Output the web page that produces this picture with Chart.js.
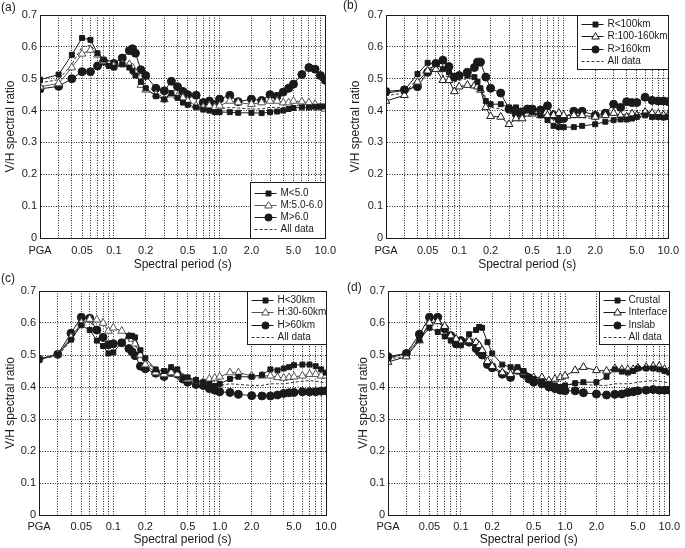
<!DOCTYPE html>
<html lang="en">
<head>
<meta charset="UTF-8">
<title>V/H spectral ratio</title>
<script src="https://cdn.jsdelivr.net/npm/chart.js"></script>
<style>
  body {
    margin: 0;
    width: 685px;
    height: 548px;
    background: #fff;
    position: relative;
    overflow: hidden;
    font-family: 'Liberation Sans', Arial, sans-serif;
  }
  canvas { position: absolute; }
  .tag { position: absolute; font-size: 12px; color: #222; line-height: 14px; }
</style>
</head>
<body>

<canvas id="chartA" width="342" height="274" style="left:0;top:0"></canvas>
<canvas id="chartB" width="343" height="274" style="left:342px;top:0"></canvas>
<canvas id="chartC" width="342" height="274" style="left:0;top:274px"></canvas>
<canvas id="chartD" width="343" height="274" style="left:342px;top:274px"></canvas>

<span class="tag" style="left:1px;top:0px">(a)</span>
<span class="tag" style="left:343px;top:-2px">(b)</span>
<span class="tag" style="left:1px;top:271px">(c)</span>
<span class="tag" style="left:347px;top:280px">(d)</span>

<script>
// spectral periods (s); PGA is drawn at the left edge (0.02 s)
const periods = [0.02, 0.03, 0.04, 0.05, 0.06, 0.07, 0.08, 0.09, 0.1, 0.12, 0.14, 0.15, 0.16, 0.18, 0.2,
                 0.25, 0.3, 0.35, 0.4, 0.45, 0.5, 0.6, 0.7, 0.8, 0.9, 1.0, 1.25, 1.5, 2.0, 2.5,
                 3.0, 3.5, 4.0, 4.5, 5.0, 6.0, 7.0, 8.0, 9.0, 10.0];

// x grid lines and labels
const gridPeriods = [0.02, 0.03, 0.04, 0.05, 0.06, 0.07, 0.08, 0.09, 0.1, 0.2, 0.3, 0.4, 0.5, 0.6, 0.7, 0.8, 0.9,
                     1, 2, 3, 4, 5, 6, 7, 8, 9, 10];
const labelPeriods = [0.02, 0.05, 0.1, 0.2, 0.5, 1, 2, 5, 10];
const labelTexts = ['PGA', '0.05', '0.1', '0.2', '0.5', '1.0', '2.0', '5.0', '10.0'];

// all data (dashed line)
const allData = [0.487, 0.497, 0.545, 0.600, 0.605, 0.580, 0.560, 0.545, 0.540, 0.548, 0.550, 0.545, 0.530, 0.500, 0.480,
                 0.455, 0.440, 0.455, 0.450, 0.435, 0.425, 0.415, 0.408, 0.410, 0.405, 0.405, 0.410, 0.408, 0.405, 0.405,
                 0.410, 0.410, 0.410, 0.412, 0.415, 0.418, 0.420, 0.418, 0.415, 0.413];
const allDataB = [0.447, 0.455, 0.500, 0.535, 0.535, 0.510, 0.505, 0.490, 0.495, 0.500, 0.500, 0.490, 0.480, 0.440, 0.410,
                  0.405, 0.390, 0.395, 0.390, 0.395, 0.393, 0.390, 0.385, 0.375, 0.372, 0.372, 0.378, 0.378, 0.375, 0.380,
                  0.390, 0.385, 0.390, 0.390, 0.392, 0.398, 0.395, 0.395, 0.393, 0.393];

// (a) magnitude
const magSmall = [0.497, 0.513, 0.575, 0.628, 0.622, 0.580, 0.560, 0.540, 0.535, 0.545, 0.535, 0.525, 0.510, 0.490, 0.470,
                  0.445, 0.435, 0.455, 0.440, 0.425, 0.418, 0.410, 0.403, 0.400, 0.395, 0.395, 0.395, 0.393, 0.393, 0.392,
                  0.395, 0.397, 0.400, 0.405, 0.408, 0.410, 0.410, 0.412, 0.413, 0.413];
const magMid = [0.475, 0.485, 0.535, 0.578, 0.590, 0.575, 0.555, 0.545, 0.540, 0.545, 0.545, 0.535, 0.520, 0.480, 0.465,
                0.450, 0.435, 0.450, 0.445, 0.440, 0.430, 0.415, 0.410, 0.415, 0.410, 0.415, 0.430, 0.425, 0.420, 0.425,
                0.430, 0.430, 0.425, 0.425, 0.430, 0.428, 0.425, 0.420, 0.410, 0.405];
const magLarge = [0.468, 0.476, 0.500, 0.522, 0.522, 0.540, 0.555, 0.545, 0.548, 0.565, 0.588, 0.594, 0.580, 0.528, 0.510,
                  0.470, 0.462, 0.492, 0.475, 0.460, 0.450, 0.448, 0.425, 0.430, 0.418, 0.436, 0.448, 0.428, 0.436, 0.432,
                  0.450, 0.445, 0.458, 0.470, 0.483, 0.513, 0.535, 0.530, 0.510, 0.495];

// (b) distance
const distNear = [0.455, 0.463, 0.515, 0.550, 0.545, 0.530, 0.520, 0.505, 0.510, 0.510, 0.505, 0.490, 0.470, 0.430, 0.420,
                  0.420, 0.410, 0.410, 0.400, 0.400, 0.395, 0.385, 0.370, 0.352, 0.348, 0.348, 0.348, 0.352, 0.357, 0.365,
                  0.370, 0.372, 0.372, 0.375, 0.380, 0.385, 0.380, 0.380, 0.378, 0.380];
const distMid = [0.430, 0.448, 0.490, 0.525, 0.530, 0.495, 0.495, 0.460, 0.475, 0.480, 0.478, 0.475, 0.465, 0.410, 0.382,
                 0.380, 0.357, 0.375, 0.375, 0.390, 0.390, 0.385, 0.385, 0.385, 0.392, 0.385, 0.385, 0.385, 0.380, 0.385,
                 0.392, 0.385, 0.380, 0.390, 0.385, 0.395, 0.392, 0.390, 0.385, 0.385];
const distFar = [0.460, 0.465, 0.475, 0.520, 0.548, 0.558, 0.538, 0.505, 0.510, 0.520, 0.535, 0.552, 0.552, 0.505, 0.470,
                 0.455, 0.405, 0.390, 0.390, 0.405, 0.405, 0.402, 0.415, 0.385, 0.372, 0.375, 0.398, 0.398, 0.385, 0.392,
                 0.420, 0.410, 0.428, 0.425, 0.425, 0.442, 0.432, 0.430, 0.430, 0.428];

// (c) depth
const depthShallow = [0.487, 0.502, 0.548, 0.593, 0.578, 0.545, 0.528, 0.505, 0.508, 0.540, 0.560, 0.560, 0.555, 0.515, 0.490,
                      0.455, 0.450, 0.462, 0.455, 0.430, 0.430, 0.422, 0.415, 0.410, 0.403, 0.410, 0.425, 0.432, 0.432, 0.438,
                      0.455, 0.452, 0.458, 0.462, 0.468, 0.470, 0.470, 0.465, 0.455, 0.445];
const depthMid = [0.487, 0.502, 0.555, 0.600, 0.612, 0.610, 0.600, 0.575, 0.585, 0.575, 0.558, 0.550, 0.535, 0.500, 0.470,
                  0.445, 0.440, 0.445, 0.440, 0.430, 0.425, 0.420, 0.415, 0.425, 0.428, 0.432, 0.445, 0.445, 0.435, 0.435,
                  0.435, 0.430, 0.428, 0.430, 0.432, 0.435, 0.440, 0.440, 0.435, 0.435];
const depthDeep = [0.487, 0.502, 0.568, 0.618, 0.615, 0.578, 0.555, 0.532, 0.535, 0.538, 0.520, 0.510, 0.498, 0.465, 0.457,
                   0.443, 0.433, 0.445, 0.440, 0.425, 0.415, 0.408, 0.405, 0.395, 0.390, 0.385, 0.383, 0.377, 0.373, 0.372,
                   0.372, 0.375, 0.380, 0.382, 0.383, 0.385, 0.385, 0.385, 0.387, 0.388];

// (d) event type
const crustal = [0.490, 0.505, 0.548, 0.585, 0.572, 0.558, 0.545, 0.532, 0.530, 0.565, 0.578, 0.588, 0.585, 0.540, 0.505,
                 0.470, 0.462, 0.462, 0.450, 0.432, 0.425, 0.418, 0.410, 0.405, 0.400, 0.405, 0.412, 0.415, 0.415, 0.432,
                 0.455, 0.448, 0.445, 0.450, 0.458, 0.458, 0.458, 0.455, 0.450, 0.445];
const interfaceEv = [0.478, 0.495, 0.545, 0.600, 0.605, 0.590, 0.560, 0.550, 0.540, 0.545, 0.540, 0.530, 0.515, 0.480, 0.465,
                     0.445, 0.440, 0.450, 0.445, 0.430, 0.430, 0.430, 0.420, 0.425, 0.430, 0.435, 0.452, 0.462, 0.452, 0.450,
                     0.458, 0.455, 0.455, 0.455, 0.460, 0.462, 0.465, 0.465, 0.455, 0.450];
const inslab = [0.495, 0.505, 0.565, 0.618, 0.618, 0.582, 0.560, 0.535, 0.545, 0.540, 0.520, 0.510, 0.500, 0.470, 0.460,
                0.440, 0.430, 0.452, 0.440, 0.425, 0.415, 0.410, 0.400, 0.395, 0.390, 0.388, 0.388, 0.382, 0.378, 0.375,
                0.377, 0.378, 0.383, 0.385, 0.388, 0.390, 0.392, 0.390, 0.390, 0.390];

const namesA = ['M<5.0', 'M:5.0-6.0', 'M>6.0', 'All data'];
const namesB = ['R<100km', 'R:100-160km', 'R>160km', 'All data'];
const namesC = ['H<30km', 'H:30-60km', 'H>60km', 'All data'];
const namesD = ['Crustal', 'Interface', 'Inslab', 'All data'];

const FONT = "'Liberation Sans', Arial, sans-serif";
const INK = '#1a1a1a';

function toXY(vals) {
    return periods.map((p, i) => ({ x: p, y: vals[i] }));
}

function makeSets(series, names, triColor) {
    return [
        { label: names[0], data: toXY(series[0]), borderColor: INK, backgroundColor: INK,
          pointStyle: 'rect', pointRadius: 3.5, pointBorderWidth: 1, borderWidth: 1 },
        { label: names[1], data: toXY(series[1]), borderColor: triColor, backgroundColor: '#fff',
          pointStyle: 'triangle', pointRadius: 4.5, pointBorderWidth: 1, borderWidth: 1 },
        { label: names[2], data: toXY(series[2]), borderColor: INK, backgroundColor: INK,
          pointStyle: 'circle', pointRadius: 4, pointBorderWidth: 1, borderWidth: 1 },
        { label: names[3], data: toXY(series[3]), borderColor: '#333', borderDash: [3, 2],
          pointRadius: 0, borderWidth: 1 }
    ];
}

// small legend marker, drawn by hand
function legendMarker(ctx, style, x, y) {
    ctx.beginPath();
    if (style === 'rect') {
        ctx.rect(x - 2.5, y - 2.5, 5, 5);
    } else if (style === 'triangle') {
        ctx.moveTo(x, y - 4);
        ctx.lineTo(x + 3.8, y + 2.5);
        ctx.lineTo(x - 3.8, y + 2.5);
        ctx.closePath();
    } else {
        ctx.arc(x, y, 3.6, 0, Math.PI * 2);
    }
    ctx.fill();
    ctx.stroke();
}

// frame around the plot area and the boxed legend
const framePlugin = {
    id: 'frame',
    afterDraw(chart, args, opts) {
        const ctx = chart.ctx;
        const a = chart.chartArea;
        ctx.save();
        ctx.strokeStyle = INK;
        ctx.lineWidth = 1;
        ctx.strokeRect(Math.round(a.left) + 0.5, Math.round(a.top) + 0.5,
                       Math.round(a.right - a.left), Math.round(a.bottom - a.top));

        const lg = opts.legend;
        const bx = Math.round(a.right - lg.w) + 0.5;
        const by = lg.corner === 'br' ? Math.round(a.bottom - lg.h) + 0.5 : Math.round(a.top) + 0.5;
        ctx.fillStyle = '#fff';
        ctx.fillRect(bx, by, lg.w, lg.h);
        ctx.strokeRect(bx, by, lg.w, lg.h);

        ctx.font = '10px ' + FONT;
        ctx.textBaseline = 'middle';
        chart.data.datasets.forEach((ds, i) => {
            const y = Math.round(by + lg.first + i * lg.step) + 0.5;
            ctx.save();
            ctx.strokeStyle = ds.borderColor;
            ctx.lineWidth = 1;
            ctx.setLineDash(ds.borderDash || []);
            ctx.beginPath();
            ctx.moveTo(bx + 4, y);
            ctx.lineTo(bx + 26, y);
            ctx.stroke();
            ctx.setLineDash([]);
            if (ds.pointRadius > 0) {
                ctx.fillStyle = ds.backgroundColor;
                legendMarker(ctx, ds.pointStyle, bx + 18, y);
            }
            ctx.restore();
            ctx.fillStyle = INK;
            ctx.fillText(ds.label, bx + lg.text, y);
        });
        ctx.restore();
    }
};

function makeChart(id, series, names, triColor, lay) {
    const ctx = document.getElementById(id).getContext('2d');
    return new Chart(ctx, {
        type: 'line',
        data: { datasets: makeSets(series, names, triColor) },
        plugins: [framePlugin],
        options: {
            responsive: false,
            animation: false,
            events: [],
            layout: { padding: lay.pad },
            plugins: {
                legend: { display: false },
                tooltip: { enabled: false },
                frame: { legend: lay.legend }
            },
            scales: {
                x: {
                    type: 'logarithmic',
                    min: 0.02,
                    max: 10,
                    afterBuildTicks: s => { s.ticks = gridPeriods.map(v => ({ value: v })); },
                    afterFit: s => { s.height = lay.xHeight; },
                    ticks: {
                        autoSkip: false,
                        maxRotation: 0,
                        minRotation: 0,
                        padding: lay.xTickPad,
                        color: INK,
                        font: { family: FONT, size: 11 },
                        callback: v => {
                            const k = labelPeriods.findIndex(t => Math.abs(t - v) / t < 1e-6);
                            return k >= 0 ? labelTexts[k] : '';
                        }
                    },
                    grid: { color: '#222', lineWidth: 1, drawTicks: false },
                    border: { color: INK, width: 1, dash: [1, 1.5] },
                    title: { display: true, text: 'Spectral period (s)', color: INK,
                             font: { family: FONT, size: 12 }, padding: { top: 0, bottom: lay.xTitlePad } }
                },
                y: {
                    type: 'linear',
                    min: 0,
                    max: 0.7,
                    afterFit: s => { s.width = lay.yWidth; },
                    ticks: {
                        stepSize: 0.1,
                        padding: 3,
                        color: INK,
                        font: { family: FONT, size: 11 },
                        callback: v => (Math.abs(v) < 1e-9 ? '0' : v.toFixed(1))
                    },
                    grid: { color: '#222', lineWidth: 1, drawTicks: false },
                    border: { color: INK, width: 1, dash: [1, 1.5] },
                    title: { display: true, text: 'V/H spectral ratio', color: INK,
                             font: { family: FONT, size: 12 }, padding: { top: 3, bottom: 0 } }
                }
            }
        }
    });
}

makeChart('chartA', [magSmall, magMid, magLarge, allData], namesA, '#555', {
    pad: { left: 0, top: 15, right: 15, bottom: 0 }, yWidth: 40, xHeight: 36, xTickPad: 6, xTitlePad: 2,
    legend: { corner: 'br', w: 75, h: 56, first: 10, step: 12.3, text: 30 }
});
makeChart('chartB', [distNear, distMid, distFar, allDataB], namesB, INK, {
    pad: { left: 3, top: 15, right: 12, bottom: 0 }, yWidth: 41, xHeight: 36, xTickPad: 6, xTitlePad: 2,
    legend: { corner: 'tr', w: 91, h: 54, first: 8.5, step: 12.3, text: 30 }
});
makeChart('chartC', [depthShallow, depthMid, depthDeep, allData], namesC, '#555', {
    pad: { left: 0, top: 17, right: 16, bottom: 0 }, yWidth: 39, xHeight: 33, xTickPad: 5, xTitlePad: 1,
    legend: { corner: 'tr', w: 79, h: 53, first: 8.5, step: 12.3, text: 30 }
});
makeChart('chartD', [crustal, interfaceEv, inslab, allData], namesD, INK, {
    pad: { left: 11, top: 17, right: 12, bottom: 0 }, yWidth: 35, xHeight: 33, xTickPad: 5, xTitlePad: 1,
    legend: { corner: 'tr', w: 70, h: 53, first: 8.5, step: 12.3, text: 29 }
});
</script>

</body>
</html>
